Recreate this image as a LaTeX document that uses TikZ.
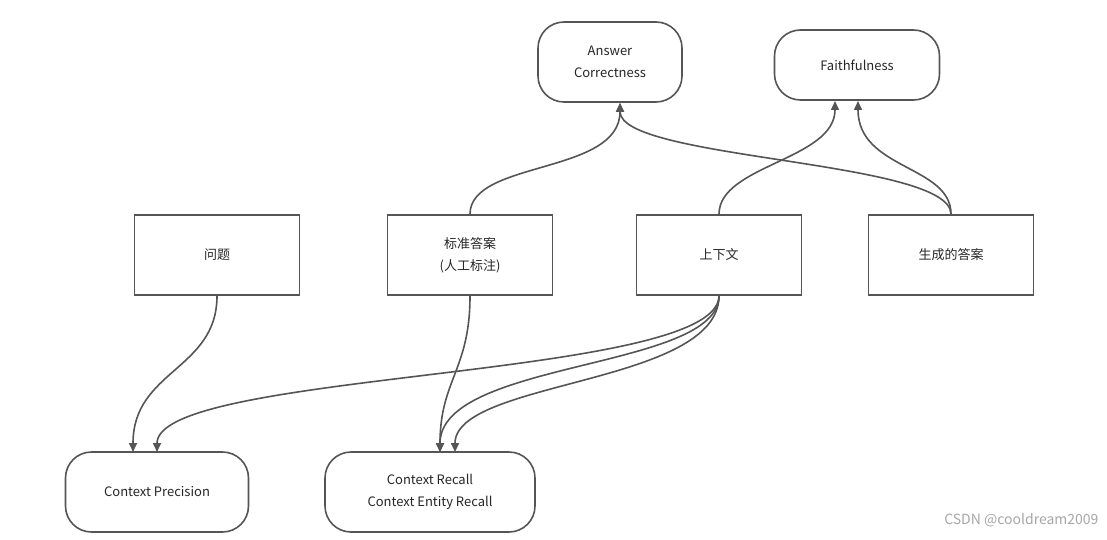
\documentclass[tikz,border=0pt]{standalone}
\usepackage{fontspec}
\setmainfont{Noto Sans CJK SC}
\usetikzlibrary{arrows.meta}
\definecolor{ln}{HTML}{555555}
\begin{document}
\begin{tikzpicture}[x=1pt,y=-1pt,
  box/.style={draw=ln,line width=1.6pt,minimum width=165pt,minimum height=80pt,align=center,font=\fontsize{13}{22}\selectfont,text=black!85},
  pill/.style={box,rounded corners=26pt},
  arr/.style={draw=ln,line width=1.6pt,-{Triangle[length=9pt,width=8pt]}}]
\useasboundingbox (0,0) rectangle (1107,540);
\node[pill,minimum width=144pt] (ac) at (610,62) {Answer\\Correctness};
\node[pill,minimum height=70pt] (fa) at (857,65) {Faithfulness};
\node[box] (q) at (217,255) {问题};
\node[box] (gt) at (470,255) {标准答案\\(人工标注)};
\node[box] (ctx) at (719,255) {上下文};
\node[box] (gen) at (951,255) {生成的答案};
\node[pill,minimum width=183pt] (cp) at (157,492) {Context Precision};
\node[pill,minimum width=210pt] (cr) at (430,492) {Context Recall\\Context Entity Recall};
\coordinate (acin) at (620,103);
\coordinate (fa1) at (835,101);
\coordinate (fa2) at (858,101);
\coordinate (cp1) at (133,452);
\coordinate (cp2) at (157,452);
\coordinate (cr1) at (440,452);
\coordinate (cr2) at (455,452);
\draw[arr] (gt.north) .. controls (470,160) and (620,175) .. (acin);
\draw[arr] (gen.north) .. controls (951,160) and (620,160) .. (acin);
\draw[arr] (ctx.north) .. controls (719,165) and (835,160) .. (fa1);
\draw[arr] (gen.north) .. controls (951,165) and (858,170) .. (fa2);
\draw[arr] (q.south) .. controls (217,370) and (133,370) .. (cp1);
\draw[arr] (ctx.south) .. controls (719,380) and (157,370) .. (cp2);
\draw[arr] (gt.south) .. controls (470,370) and (440,380) .. (cr1);
\draw[arr] (ctx.south) .. controls (719,370) and (440,360) .. (cr1);
\draw[arr] (ctx.south) .. controls (719,385) and (455,380) .. (cr2);
\node[anchor=east,text=black!35,font=\fontsize{14}{16}\selectfont] (wm) at (1102,520) {CSDN @cooldream2009};
\end{tikzpicture}
\end{document}
